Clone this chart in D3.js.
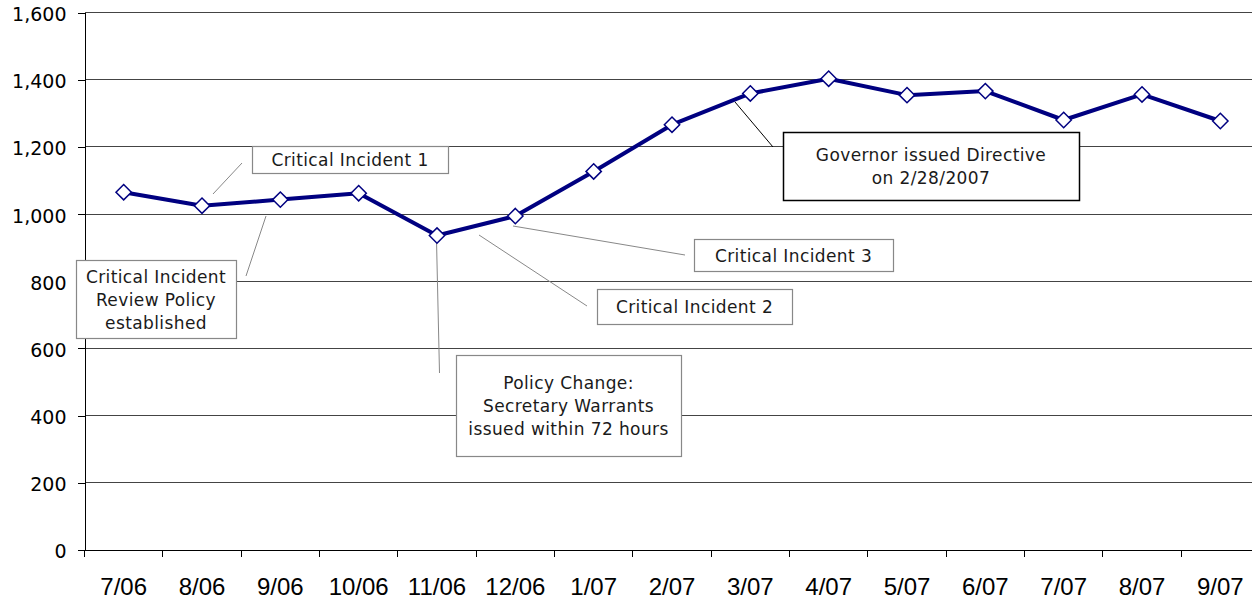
<!DOCTYPE html>
<html>
<head>
<meta charset="utf-8">
<script src="https://cdn.jsdelivr.net/npm/d3@7"></script>
<style>
  body { margin: 0; background: #fff; }
</style>
</head>
<body>
<svg id="drawing_region"></svg>
<script>
// monthly values
const months = ["7/06", "8/06", "9/06", "10/06", "11/06", "12/06", "1/07", "2/07",
                "3/07", "4/07", "5/07", "6/07", "7/07", "8/07", "9/07"];
const counts = [1065, 1025, 1043, 1062, 936, 994, 1127, 1266,
                1359, 1403, 1354, 1366, 1280, 1356, 1277];
const yTicks = [0, 200, 400, 600, 800, 1000, 1200, 1400, 1600];

// callout texts
const noteTexts = [
    ["Critical Incident 1"],
    ["Critical Incident", "Review Policy", "established"],
    ["Critical Incident 3"],
    ["Critical Incident 2"],
    ["Policy Change:", "Secretary Warrants", "issued within 72 hours"],
    ["Governor issued Directive", "on 2/28/2007"]
];

// callout boxes and leader lines (pixel layout)
const noteLayout = [
    { box: [252, 146, 196, 27], lead: [213, 194, 242, 163], color: '#888' },
    { box: [76, 260, 160, 78], lead: [246, 276, 266, 216], color: '#888' },
    { box: [694, 239, 199, 32], lead: [513, 226, 685, 255], color: '#888' },
    { box: [597, 289, 195, 35], lead: [479, 235, 587, 306], color: '#888' },
    { box: [456, 355, 225, 101], lead: [436.5, 240, 439.5, 373], color: '#888' },
    { box: [783, 132, 296, 68], lead: [735, 102, 773, 147], color: '#000' }
];

class LineChart {

    constructor(config) {
        this.config = config;
        this.init();
    }

    init() {
        let self = this;
        let c = self.config;

        self.svg = d3.select(c.parent)
            .attr('width', c.width)
            .attr('height', c.height);

        self.xscale = d3.scaleBand()
            .domain(months)
            .range([c.left, c.right]);

        self.yscale = d3.scaleLinear()
            .domain([0, 1600])
            .range([c.bottom, c.top]);
    }

    render() {
        let self = this;
        let c = self.config;

        // grid
        self.svg.append('g')
            .selectAll('line')
            .data(yTicks.filter(d => d > 0))
            .join('line')
            .attr('x1', c.left)
            .attr('x2', c.width)
            .attr('y1', d => self.yscale(d))
            .attr('y2', d => self.yscale(d))
            .attr('stroke', '#444')
            .attr('shape-rendering', 'crispEdges');

        // y axis
        let yaxis = d3.axisLeft(self.yscale)
            .tickValues(yTicks)
            .tickSize(7)
            .tickPadding(11)
            .tickFormat(d3.format(','));
        let yg = self.svg.append('g')
            .attr('transform', `translate(${c.left},0)`)
            .call(yaxis);
        yg.select('.domain').attr('stroke', '#000').attr('shape-rendering', 'crispEdges');
        yg.selectAll('.tick line').attr('stroke', '#000').attr('shape-rendering', 'crispEdges');
        yg.selectAll('text')
            .attr('font-family', 'DejaVu Sans, Verdana, sans-serif')
            .attr('font-size', 19)
            .attr('fill', '#000')
            .attr('dy', '0.42em');

        // x axis, ticks between categories
        let xg = self.svg.append('g');
        xg.append('line')
            .attr('x1', c.left).attr('x2', c.width)
            .attr('y1', c.bottom).attr('y2', c.bottom)
            .attr('stroke', '#000')
            .attr('shape-rendering', 'crispEdges');
        xg.selectAll('.xtick')
            .data(months)
            .join('line')
            .attr('class', 'xtick')
            .attr('x1', d => self.xscale(d))
            .attr('x2', d => self.xscale(d))
            .attr('y1', c.bottom)
            .attr('y2', c.bottom + 7)
            .attr('stroke', '#000')
            .attr('shape-rendering', 'crispEdges');
        xg.selectAll('.xlabel')
            .data(months)
            .join('text')
            .attr('class', 'xlabel')
            .attr('x', d => self.xscale(d) + self.xscale.bandwidth() / 2)
            .attr('y', 595)
            .attr('text-anchor', 'middle')
            .attr('font-family', 'Liberation Sans, Arial, sans-serif')
            .attr('font-size', 24)
            .text(d => d);

        // callouts
        let notes = self.svg.append('g');
        noteTexts.forEach((lines, i) => {
            let L = noteLayout[i];
            notes.append('line')
                .attr('x1', L.lead[0]).attr('y1', L.lead[1])
                .attr('x2', L.lead[2]).attr('y2', L.lead[3])
                .attr('stroke', L.color)
                .attr('stroke-width', 1);
            notes.append('rect')
                .attr('x', L.box[0] + 0.5).attr('y', L.box[1] + 0.5)
                .attr('width', L.box[2]).attr('height', L.box[3])
                .attr('fill', '#fff')
                .attr('stroke', L.color)
                .attr('stroke-width', L.color == '#000' ? 1.5 : 1.2);
            let cx = L.box[0] + L.box[2] / 2;
            let cy = L.box[1] + L.box[3] / 2;
            let t = notes.append('text')
                .attr('text-anchor', 'middle')
                .attr('font-family', 'DejaVu Sans, Verdana, sans-serif')
                .attr('font-size', 17)
                .attr('letter-spacing', 0.4)
                .attr('fill', '#1a1a1a');
            lines.forEach((s, j) => {
                t.append('tspan')
                    .attr('x', cx)
                    .attr('y', cy + 6.5 + (j - (lines.length - 1) / 2) * 23)
                    .text(s);
            });
        });

        // series line
        let line = d3.line()
            .x((d, i) => self.xscale(months[i]) + self.xscale.bandwidth() / 2)
            .y(d => self.yscale(d));

        self.svg.append('path')
            .datum(counts)
            .attr('d', line)
            .attr('fill', 'none')
            .attr('stroke', '#000080')
            .attr('stroke-width', 4)
            .attr('stroke-linejoin', 'round');

        self.svg.append('g')
            .selectAll('path')
            .data(counts)
            .join('path')
            .attr('d', d3.symbol().type(d3.symbolDiamond2).size(150))
            .attr('transform', (d, i) =>
                `translate(${self.xscale(months[i]) + self.xscale.bandwidth() / 2},${self.yscale(d)})`)
            .attr('fill', '#fff')
            .attr('stroke', '#000080')
            .attr('stroke-width', 1.5);
    }
}

let chart = new LineChart({
    parent: '#drawing_region',
    width: 1252,
    height: 600,
    left: 84.5,
    right: 1259.5,
    top: 12.5,
    bottom: 550
});
chart.render();
</script>
</body>
</html>
